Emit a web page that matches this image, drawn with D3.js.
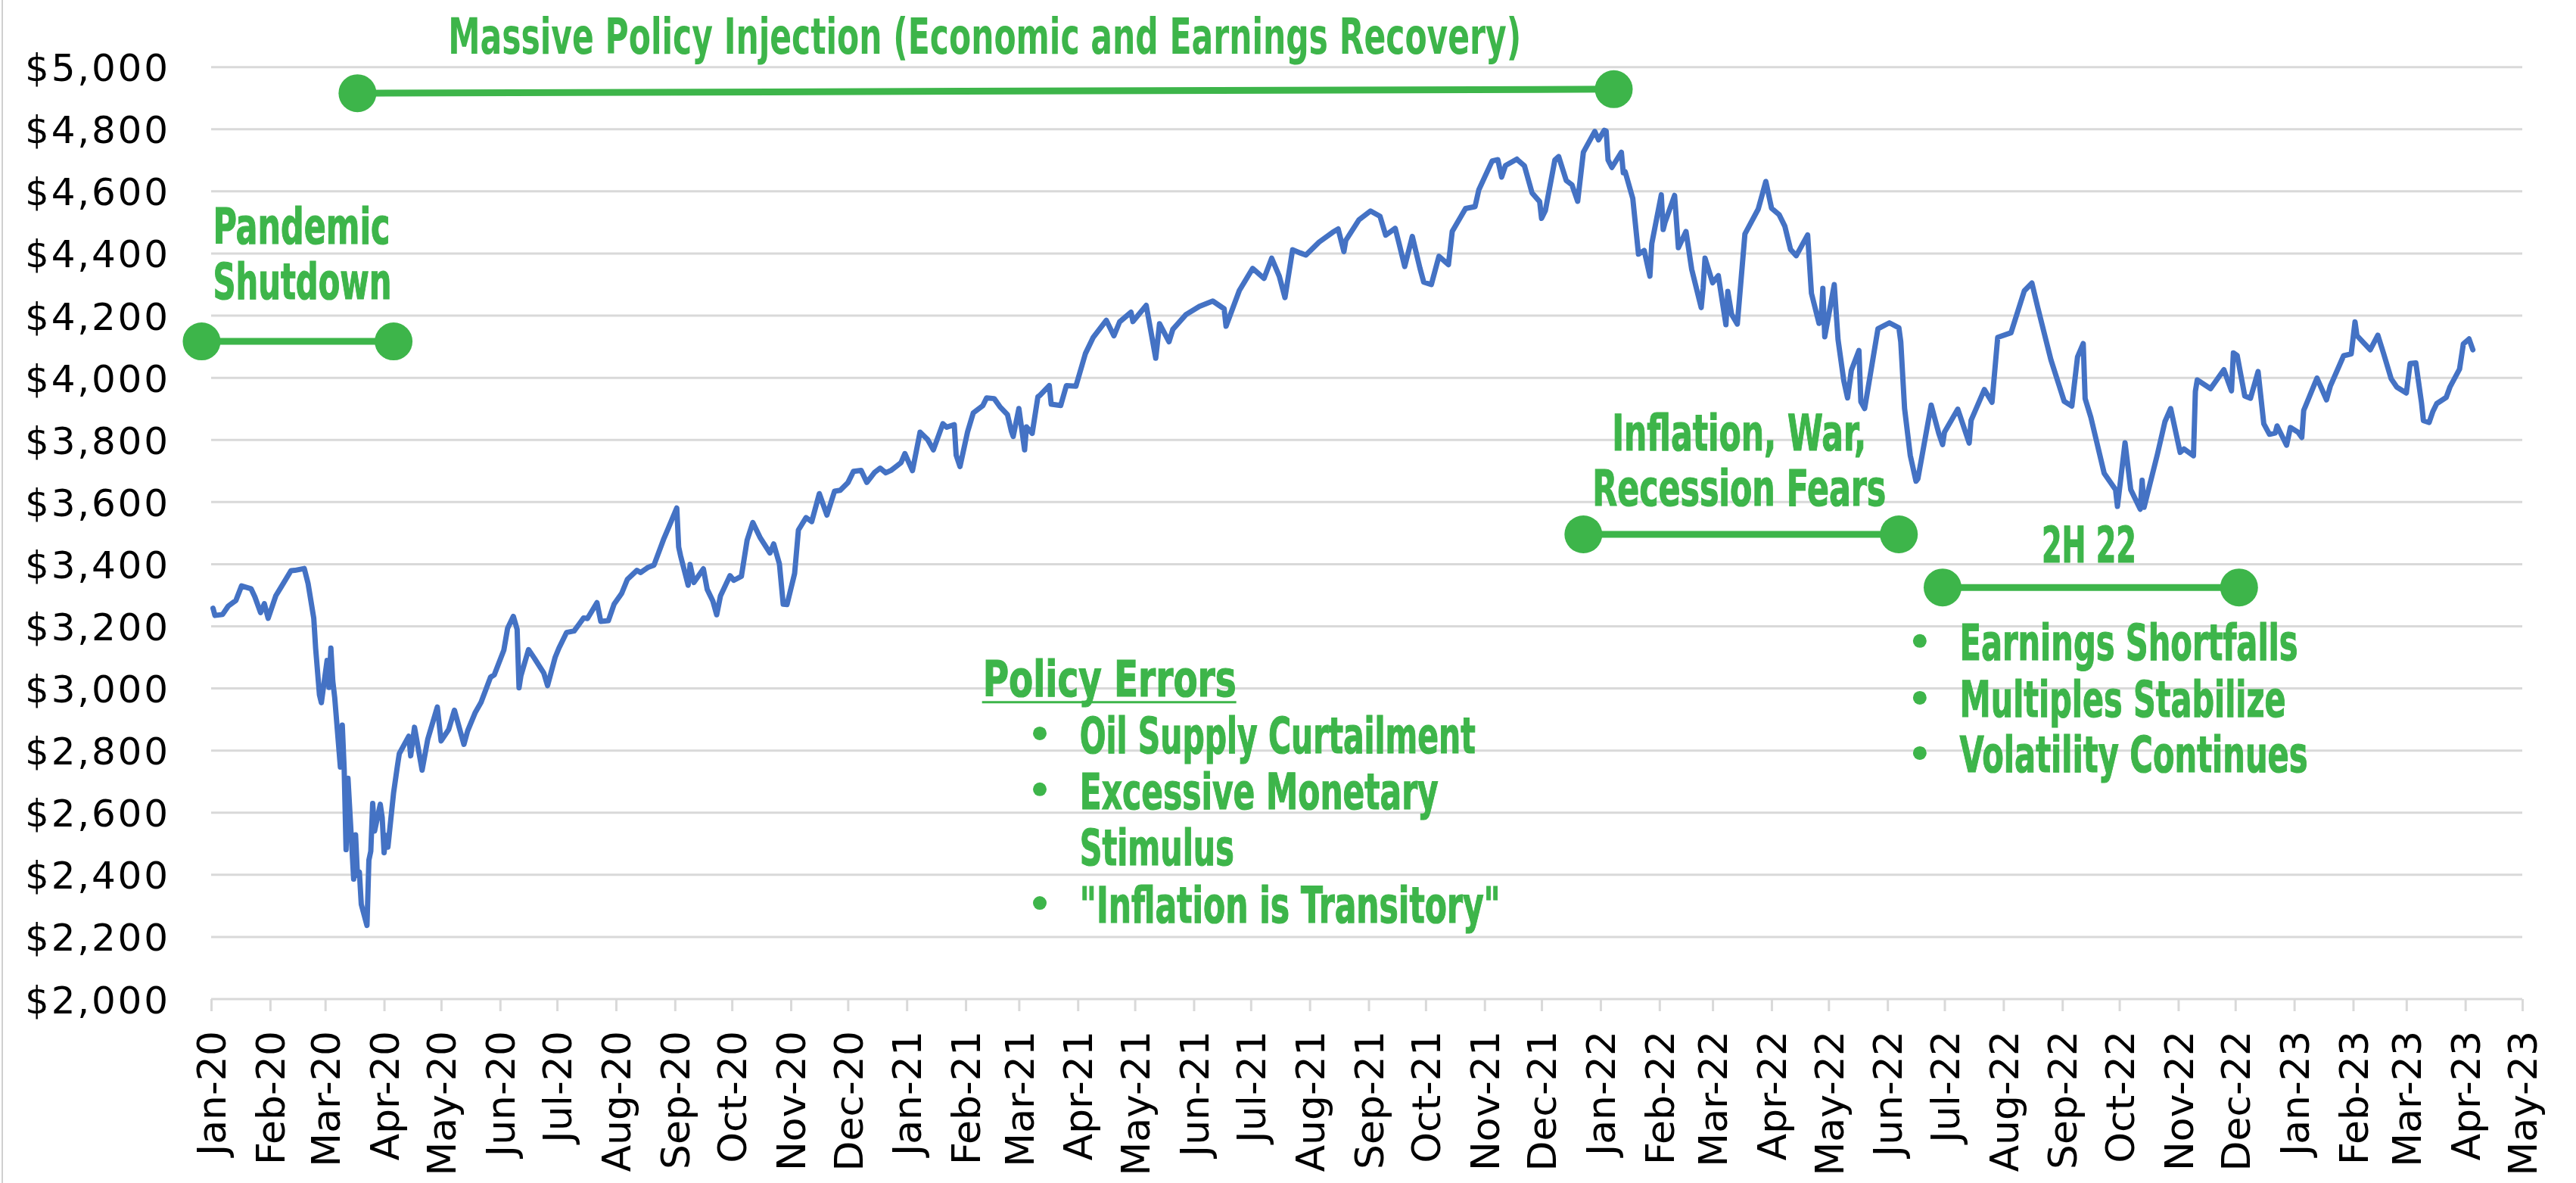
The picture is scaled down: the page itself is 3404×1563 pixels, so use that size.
<!DOCTYPE html>
<html>
<head>
<meta charset="utf-8">
<script src="https://cdn.jsdelivr.net/npm/d3@7"></script>
<style>
  html, body { margin: 0; padding: 0; background: #ffffff; }
  svg { display: block; }
</style>
</head>
<body>
<svg id="chart" width="3404" height="1563"></svg>
<script>
// ---------------- DATA (S&P 500 closes) ----------------
const dates = [
"2020-01-02","2020-01-03","2020-01-07","2020-01-10","2020-01-14","2020-01-17","2020-01-22","2020-01-24","2020-01-27","2020-01-29","2020-01-31",
"2020-02-04","2020-02-07","2020-02-12","2020-02-14","2020-02-19","2020-02-21","2020-02-24","2020-02-25","2020-02-27","2020-02-28",
"2020-03-02","2020-03-03","2020-03-04","2020-03-05","2020-03-06","2020-03-09","2020-03-10","2020-03-11","2020-03-12","2020-03-13","2020-03-16","2020-03-17","2020-03-18","2020-03-19","2020-03-20","2020-03-23","2020-03-24","2020-03-25","2020-03-26","2020-03-27","2020-03-30","2020-03-31",
"2020-04-01","2020-04-02","2020-04-03","2020-04-06","2020-04-08","2020-04-09","2020-04-14","2020-04-15","2020-04-17","2020-04-21","2020-04-24","2020-04-29",
"2020-05-01","2020-05-05","2020-05-08","2020-05-13","2020-05-15","2020-05-19","2020-05-22","2020-05-27","2020-05-29",
"2020-06-03","2020-06-05","2020-06-08","2020-06-10","2020-06-11","2020-06-12","2020-06-16","2020-06-19","2020-06-24","2020-06-26","2020-06-30",
"2020-07-02","2020-07-06","2020-07-10","2020-07-15","2020-07-17","2020-07-22","2020-07-24","2020-07-28","2020-07-31",
"2020-08-04","2020-08-07","2020-08-12","2020-08-14","2020-08-18","2020-08-21","2020-08-26","2020-08-28",
"2020-09-02","2020-09-03","2020-09-04","2020-09-08","2020-09-09","2020-09-11","2020-09-16","2020-09-18","2020-09-21","2020-09-23","2020-09-25","2020-09-30",
"2020-10-02","2020-10-06","2020-10-09","2020-10-12","2020-10-16","2020-10-21","2020-10-23","2020-10-26","2020-10-28","2020-10-30",
"2020-11-03","2020-11-05","2020-11-09","2020-11-12","2020-11-16","2020-11-20","2020-11-24","2020-11-27",
"2020-12-01","2020-12-04","2020-12-08","2020-12-11","2020-12-15","2020-12-18","2020-12-21","2020-12-24","2020-12-29","2020-12-31",
"2021-01-04","2021-01-08","2021-01-12","2021-01-15","2021-01-20","2021-01-22","2021-01-26","2021-01-27","2021-01-29",
"2021-02-02","2021-02-05","2021-02-10","2021-02-12","2021-02-16","2021-02-19","2021-02-23","2021-02-25","2021-02-26",
"2021-03-01","2021-03-04","2021-03-05","2021-03-08","2021-03-11","2021-03-12","2021-03-17","2021-03-18","2021-03-23","2021-03-26","2021-03-31",
"2021-04-05","2021-04-09","2021-04-16","2021-04-20","2021-04-23","2021-04-29","2021-04-30",
"2021-05-07","2021-05-12","2021-05-14","2021-05-19","2021-05-21","2021-05-28",
"2021-06-04","2021-06-11","2021-06-17","2021-06-18","2021-06-25",
"2021-07-02","2021-07-08","2021-07-12","2021-07-16","2021-07-19","2021-07-23","2021-07-27","2021-07-30",
"2021-08-06","2021-08-13","2021-08-16","2021-08-19","2021-08-20","2021-08-27",
"2021-09-02","2021-09-07","2021-09-10","2021-09-15","2021-09-17","2021-09-20","2021-09-24","2021-09-28","2021-09-30",
"2021-10-04","2021-10-08","2021-10-13","2021-10-15","2021-10-22","2021-10-27","2021-10-29",
"2021-11-05","2021-11-08","2021-11-10","2021-11-12","2021-11-18","2021-11-19","2021-11-22","2021-11-26","2021-11-30",
"2021-12-01","2021-12-03","2021-12-08","2021-12-10","2021-12-14","2021-12-17","2021-12-20","2021-12-23","2021-12-29","2021-12-31",
"2022-01-03","2022-01-04","2022-01-05","2022-01-07","2022-01-12","2022-01-13","2022-01-14","2022-01-18","2022-01-21","2022-01-24","2022-01-27","2022-01-28",
"2022-02-02","2022-02-03","2022-02-04","2022-02-09","2022-02-11","2022-02-15","2022-02-18","2022-02-23","2022-02-24","2022-02-25",
"2022-03-01","2022-03-04","2022-03-08","2022-03-09","2022-03-11","2022-03-14","2022-03-18","2022-03-25","2022-03-29",
"2022-04-01","2022-04-05","2022-04-08","2022-04-11","2022-04-14","2022-04-20","2022-04-22","2022-04-26","2022-04-27","2022-04-28","2022-04-29",
"2022-05-04","2022-05-06","2022-05-09","2022-05-11","2022-05-13","2022-05-17","2022-05-18","2022-05-20","2022-05-27",
"2022-06-02","2022-06-07","2022-06-08","2022-06-10","2022-06-13","2022-06-16","2022-06-17","2022-06-24","2022-06-28","2022-06-30",
"2022-07-01","2022-07-08","2022-07-14","2022-07-15","2022-07-22","2022-07-26","2022-07-29",
"2022-08-05","2022-08-12","2022-08-16","2022-08-19","2022-08-26",
"2022-09-02","2022-09-06","2022-09-09","2022-09-12","2022-09-13","2022-09-16","2022-09-23","2022-09-29","2022-09-30",
"2022-10-04","2022-10-07","2022-10-12","2022-10-13","2022-10-14","2022-10-21","2022-10-25","2022-10-28",
"2022-11-02","2022-11-04","2022-11-09","2022-11-10","2022-11-11","2022-11-18","2022-11-25","2022-11-29","2022-11-30",
"2022-12-02","2022-12-06","2022-12-09","2022-12-13","2022-12-16","2022-12-19","2022-12-22","2022-12-23","2022-12-28","2022-12-30",
"2023-01-03","2023-01-05","2023-01-06","2023-01-13","2023-01-18","2023-01-20","2023-01-27","2023-01-31",
"2023-02-02","2023-02-03","2023-02-10","2023-02-14","2023-02-17","2023-02-21","2023-02-24",
"2023-03-01","2023-03-03","2023-03-06","2023-03-09","2023-03-10","2023-03-13","2023-03-15","2023-03-17","2023-03-22","2023-03-24","2023-03-29","2023-03-31",
"2023-04-03","2023-04-05"
];
const closes = [
3258,3235,3238,3265,3283,3330,3321,3295,3244,3273,3226,
3298,3328,3379,3380,3386,3338,3226,3128,2979,2954,
3090,3003,3130,3024,2972,2747,2882,2741,2481,2711,2386,2529,2398,2409,2305,2237,2447,2476,2630,2541,2627,2585,
2471,2527,2489,2664,2750,2790,2846,2783,2875,2737,2837,2940,
2831,2868,2930,2820,2864,2923,2955,3036,3044,
3123,3194,3232,3190,3002,3041,3125,3098,3050,3009,3100,
3130,3180,3185,3227,3225,3276,3216,3218,3271,
3306,3351,3380,3373,3390,3397,3479,3508,
3581,3455,3427,3332,3399,3341,3385,3319,3281,3237,3298,3363,
3348,3361,3477,3534,3484,3436,3465,3401,3271,3270,
3370,3510,3550,3537,3627,3558,3635,3638,
3662,3699,3702,3663,3695,3709,3694,3703,3727,3756,
3701,3825,3801,3768,3852,3841,3849,3751,3714,
3826,3887,3910,3935,3933,3907,3881,3829,3811,
3901,3768,3842,3821,3939,3943,3975,3915,3911,3975,3973,
4078,4129,4185,4135,4180,4211,4181,
4233,4063,4174,4116,4156,4204,
4230,4247,4222,4166,4281,
4352,4320,4385,4327,4258,4412,4402,4395,
4437,4468,4479,4406,4442,4509,
4537,4520,4459,4481,4433,4358,4455,4353,4308,
4300,4391,4364,4471,4545,4551,4605,
4698,4702,4646,4683,4704,4698,4682,4595,4567,
4513,4538,4701,4712,4635,4621,4568,4726,4793,4766,
4797,4794,4701,4677,4726,4660,4663,4577,4398,4410,4327,4432,
4589,4477,4501,4587,4419,4471,4349,4226,4289,4385,
4306,4329,4171,4278,4204,4173,4463,4543,4632,
4546,4525,4488,4413,4393,4460,4272,4175,4183,4288,4132,
4300,4123,3991,3935,4024,4088,3923,3901,4158,
4177,4161,4116,3901,3750,3667,3675,3912,3821,3785,
3825,3899,3790,3863,3962,3921,4130,
4145,4280,4305,4228,4058,
3924,3909,4067,4110,3933,3873,3693,3640,3586,
3791,3640,3577,3670,3583,3753,3859,3901,
3760,3771,3749,3956,3993,3965,4026,3958,4080,
4072,3941,3934,4020,3852,3818,3822,3845,3783,3840,
3825,3808,3895,3999,3929,3973,4071,4077,
4180,4136,4090,4137,4079,3997,3970,
3951,4046,4048,3919,3862,3856,3892,3917,3937,3971,4028,4109,
4125,4090
];
const yTicks = [2000,2200,2400,2600,2800,3000,3200,3400,3600,3800,4000,4200,4400,4600,4800,5000];
const xDomain = ["2020-01-01","2023-05-01"];

// Annotation timelines (date span, price level)
const spanStarts = ["2019-12-27","2020-03-18","2021-12-23","2022-06-30"];
const spanEnds   = ["2020-04-06","2022-01-08","2022-06-07","2022-12-03"];
const spanLevelsStart = [4117,4916,3496,3325];
const spanLevelsEnd   = [4117,4929,3496,3325];

// Annotation texts, anchored in data space (date, price at baseline)
const labelTexts  = ["Pandemic","Shutdown","Massive Policy Injection (Economic and Earnings Recovery)","Inflation, War,","Recession Fears","2H 22","Policy Errors"];
const labelDates  = ["2020-01-02","2020-01-02","2021-02-11","2022-03-15","2022-03-15","2022-09-15","2021-02-10"];
const labelValues = [4431,4254,5043,3766,3588,3406,2975];

const policyBullets = ["Oil Supply Curtailment","Excessive Monetary","Stimulus","\"Inflation is Transitory\""];
const policyBulletValues = [2792,2612,2432,2246];
const policyHasDot = [true,true,false,true];
const policyDotDate = "2021-03-12", policyTextDate = "2021-04-02";

const halfBullets = ["Earnings Shortfalls","Multiples Stabilize","Volatility Continues"];
const halfBulletValues = [3092,2909,2731];
const halfDotDate = "2022-06-18", halfTextDate = "2022-07-09";

// ---------------- LAYOUT / STYLE ----------------
const W = 3404, H = 1563;
const green = "#3db54a", blue = "#4472c4", gridColor = "#d9d9d9";
const annFont = "'Liberation Sans Narrow','DejaVu Sans Condensed','Arial Narrow',sans-serif";
const labelWidths = [234,236,1418,336,388,125,335];
const labelAnchors = ["start","start","middle","middle","middle","middle","start"];
const policyWidths = [523,474,204,556];
const halfWidths = [447,431,460];

const parse = d3.utcParse("%Y-%m-%d");
const series = dates.map((d,i) => ({date: parse(d), v: closes[i]}));

const x = d3.scaleUtc().domain(xDomain.map(parse)).range([279, 3333]);
const y = d3.scaleLinear().domain([2000, 5000]).range([1320, 88.7]);

const svg = d3.select("#chart");
svg.append("rect").attr("width", W).attr("height", H).attr("fill", "#fff");
svg.append("line").attr("x1", 3).attr("x2", 3).attr("y1", 0).attr("y2", H)
   .attr("stroke", "#d0d0d0").attr("stroke-width", 2);

// gridlines
svg.append("g").selectAll("line").data(yTicks).join("line")
  .attr("x1", x.range()[0]).attr("x2", x.range()[1])
  .attr("y1", d => y(d)).attr("y2", d => y(d))
  .attr("stroke", gridColor).attr("stroke-width", 3);

// y axis labels
const yAxis = d3.axisLeft(y).tickValues(yTicks).tickSize(0).tickPadding(57)
  .tickFormat(d => "$" + d3.format(",")(d));
const gy = svg.append("g").attr("transform", `translate(${x.range()[0]},0)`).call(yAxis);
gy.select(".domain").remove();
gy.selectAll(".tick text")
  .attr("font-family", "'DejaVu Sans',sans-serif").attr("font-size", 50)
  .attr("fill", "#000").attr("textLength", 189).attr("lengthAdjust", "spacing")
  .attr("dy", "0.36em");

// x axis
const months = d3.utcMonth.range(parse("2020-01-01"), d3.utcDay.offset(parse(xDomain[1]), 1));
const xAxis = d3.axisBottom(x).tickValues(months).tickFormat(d3.utcFormat("%b-%y"))
  .tickSize(16).tickPadding(0);
const gx = svg.append("g").attr("transform", `translate(0,${y(2000)})`).call(xAxis);
gx.select(".domain").remove();
gx.selectAll(".tick line").attr("stroke", gridColor).attr("stroke-width", 3);
gx.selectAll(".tick text")
  .attr("font-family", "'DejaVu Sans',sans-serif").attr("font-size", 52).attr("fill", "#000")
  .attr("transform", "rotate(-90)").attr("text-anchor", "end")
  .attr("x", -42).attr("y", 0).attr("dy", "0.36em");

// price line
svg.append("path").datum(series)
  .attr("fill", "none").attr("stroke", blue).attr("stroke-width", 7)
  .attr("stroke-linejoin", "round").attr("stroke-linecap", "round")
  .attr("d", d3.line().x(d => x(d.date)).y(d => y(d.v)));

// annotation timelines
const spans = spanStarts.map((s,i) => ({
  x0: x(parse(s)), x1: x(parse(spanEnds[i])),
  y0: y(spanLevelsStart[i]), y1: y(spanLevelsEnd[i])
}));
const ga = svg.append("g");
ga.selectAll("line.span").data(spans).join("line").attr("class","span")
  .attr("x1", d => d.x0).attr("x2", d => d.x1).attr("y1", d => d.y0).attr("y2", d => d.y1)
  .attr("stroke", green).attr("stroke-width", 9);
ga.selectAll("circle.s0").data(spans).join("circle").attr("class","s0")
  .attr("cx", d => d.x0).attr("cy", d => d.y0).attr("r", 25).attr("fill", green);
ga.selectAll("circle.s1").data(spans).join("circle").attr("class","s1")
  .attr("cx", d => d.x1).attr("cy", d => d.y1).attr("r", 25).attr("fill", green);

function annText(g, txt, px, py, anchor, width, strokeW) {
  return g.append("text").attr("x", px).attr("y", py)
    .attr("text-anchor", anchor)
    .attr("font-family", annFont).attr("font-weight", "bold").attr("font-size", 66)
    .attr("fill", green).attr("stroke", green).attr("stroke-width", strokeW)
    .attr("textLength", width).attr("lengthAdjust", "spacingAndGlyphs")
    .text(txt);
}

labelTexts.forEach((t,i) => {
  annText(ga, t, x(parse(labelDates[i])), y(labelValues[i]), labelAnchors[i], labelWidths[i], i === 2 ? 0 : 1.2);
});
// underline for "Policy Errors"
const peX = x(parse(labelDates[6])), peY = y(labelValues[6]);
ga.append("line").attr("x1", peX - 1).attr("x2", peX + labelWidths[6]).attr("y1", peY + 8).attr("y2", peY + 8)
  .attr("stroke", green).attr("stroke-width", 3);

// bullet lists
policyBullets.forEach((t,i) => {
  const by = y(policyBulletValues[i]);
  if (policyHasDot[i]) ga.append("circle").attr("cx", x(parse(policyDotDate))).attr("cy", by - 26).attr("r", 9).attr("fill", green);
  annText(ga, t, x(parse(policyTextDate)), by, "start", policyWidths[i], 1.2);
});
halfBullets.forEach((t,i) => {
  const by = y(halfBulletValues[i]);
  ga.append("circle").attr("cx", x(parse(halfDotDate))).attr("cy", by - 25).attr("r", 9).attr("fill", green);
  annText(ga, t, x(parse(halfTextDate)), by, "start", halfWidths[i], 1.2);
});
</script>
</body>
</html>
